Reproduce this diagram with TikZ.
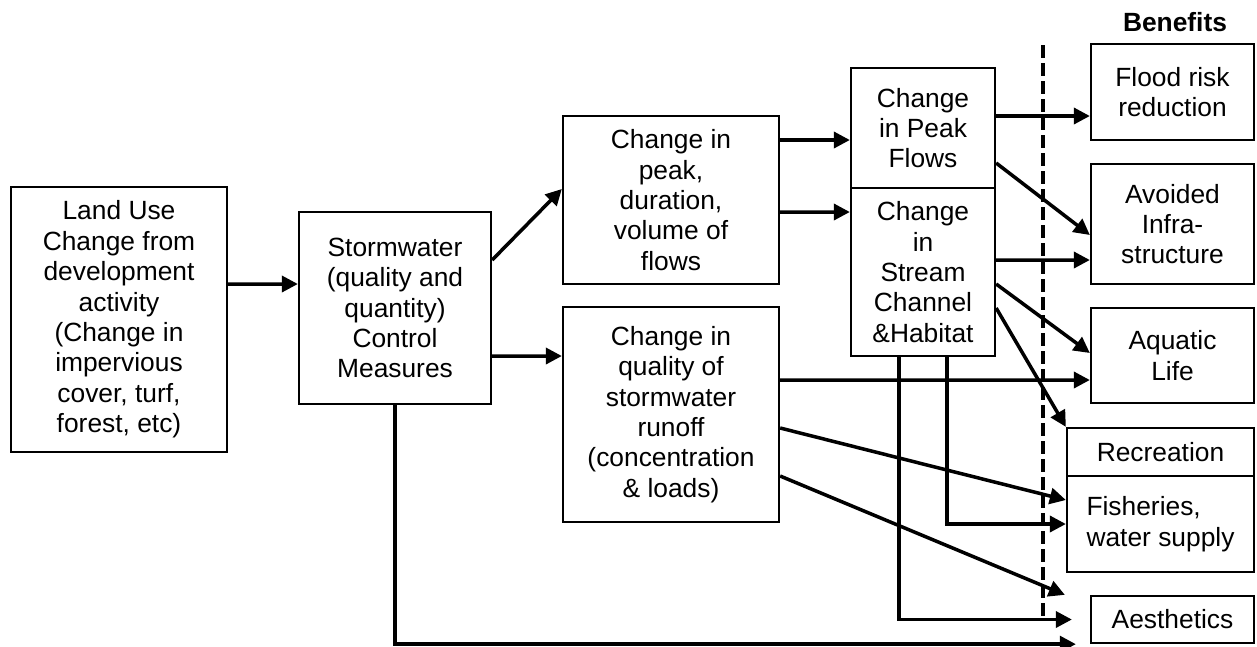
\documentclass[tikz,border=0pt]{standalone}
\usepackage{fontspec}
\setmainfont{Liberation Sans}
\usetikzlibrary{arrows.meta}

\begin{document}
\begin{tikzpicture}[
        box/.style={draw, line width=1.3pt, align=center, inner sep=0pt, font=\fontsize{15pt}{17.3pt}\selectfont},
        bigbox/.style={box, minimum width=4.32cm},
        midbox/.style={box, minimum width=2.88cm},
        benbox/.style={box, minimum width=3.26cm},
        arr/.style={-{Triangle[length=0.32cm, width=0.32cm]}, line width=2pt}
    ]
    \useasboundingbox (0,0) rectangle (25.14,-12.92);

    % Causes
    \node[bigbox, minimum height=5.30cm] (land) at (2.38, -6.39) {Land Use\\Change from\\development\\activity\\(Change in\\impervious\\cover, turf,\\forest, etc)};
    \node[box, minimum width=3.84cm, minimum height=3.84cm] (storm) at (7.90, -6.16) {Stormwater\\(quality and\\quantity)\\Control\\Measures};

    % Changes
    \node[bigbox, minimum height=3.36cm] (peak) at (13.42, -4.00) {Change in\\peak,\\duration,\\volume of\\flows};
    \node[bigbox, minimum height=4.30cm] (qual) at (13.42, -8.29) {Change in\\quality of\\stormwater\\runoff\\(concentration\\\& loads)};
    \node[midbox, minimum height=2.40cm] (pflow) at (18.46, -2.56) {Change\\in Peak\\Flows};
    \node[midbox, minimum height=3.36cm] (stream) at (18.46, -5.44) {Change\\in\\Stream\\Channel\\\&Habitat};

    % Benefits
    \node[font=\fontsize{15pt}{17.3pt}\selectfont\bfseries] (ben) at (23.50, -0.44) {Benefits};
    \node[benbox, minimum height=1.92cm] (flood) at (23.45, -1.84) {Flood risk\\reduction};
    \node[benbox, minimum height=2.40cm] (avoid) at (23.45, -4.48) {Avoided\\Infra-\\structure};
    \node[benbox, minimum height=1.90cm] (aqua) at (23.45, -7.11) {Aquatic\\Life};
    \node[box, minimum width=3.74cm, minimum height=0.96cm] (recr) at (23.21, -9.04) {Recreation};
    \node[box, minimum width=3.74cm, minimum height=1.92cm, align=left] (fish) at (23.21, -10.48) {Fisheries,\\water supply};
    \node[benbox, minimum height=0.94cm] (aes) at (23.45, -12.39) {Aesthetics};

    % Divider
    \coordinate (divtop) at (20.86, -0.90);
    \coordinate (divbot) at (20.86, -12.36);
    \draw[line width=2pt, dash pattern=on 0.26cm off 0.1cm] (divtop) -- (divbot);

    % Causes -> changes
    \draw[arr] ([yshift=0.71cm]land.east) -- ([yshift=0.48cm]storm.west);
    \draw[arr] ([yshift=0.96cm]storm.east) -- ([yshift=0.22cm]peak.west);
    \draw[arr] ([yshift=-0.96cm]storm.east) -- ([yshift=1.17cm]qual.west);
    \draw[arr] ([yshift=1.20cm]peak.east) -- ([yshift=-0.24cm]pflow.west);
    \draw[arr] ([yshift=-0.24cm]peak.east) -- ([yshift=1.20cm]stream.west);

    % Changes -> benefits
    \draw[arr] ([yshift=0.24cm]pflow.east) -- ([yshift=-0.48cm]flood.west);
    \draw[arr] ([yshift=-0.70cm]pflow.east) -- ([yshift=-0.22cm]avoid.west);
    \draw[arr] ([yshift=0.24cm]stream.east) -- ([yshift=-0.72cm]avoid.west);
    \draw[arr] ([yshift=-0.24cm]stream.east) -- ([yshift=0.05cm]aqua.west);
    \draw[arr] ([yshift=-0.72cm]stream.east) -- (recr.north west);
    \draw[arr] ([yshift=0.69cm]qual.east) -- ([yshift=-0.49cm]aqua.west);
    \draw[arr] ([yshift=-0.27cm]qual.east) -- ([yshift=0.48cm]fish.west);
    \draw[arr] ([yshift=-1.23cm]qual.east) -- ([xshift=-0.5cm]aes.north west);
    \draw[arr] ([xshift=0.48cm]stream.south) |- (fish.west);
    \draw[arr] ([xshift=-0.48cm]stream.south) |- ([xshift=-0.36cm]aes.west);
    \draw[arr] (storm.south) |- ([xshift=-0.28cm]aes.south west);

\end{tikzpicture}
\end{document}
